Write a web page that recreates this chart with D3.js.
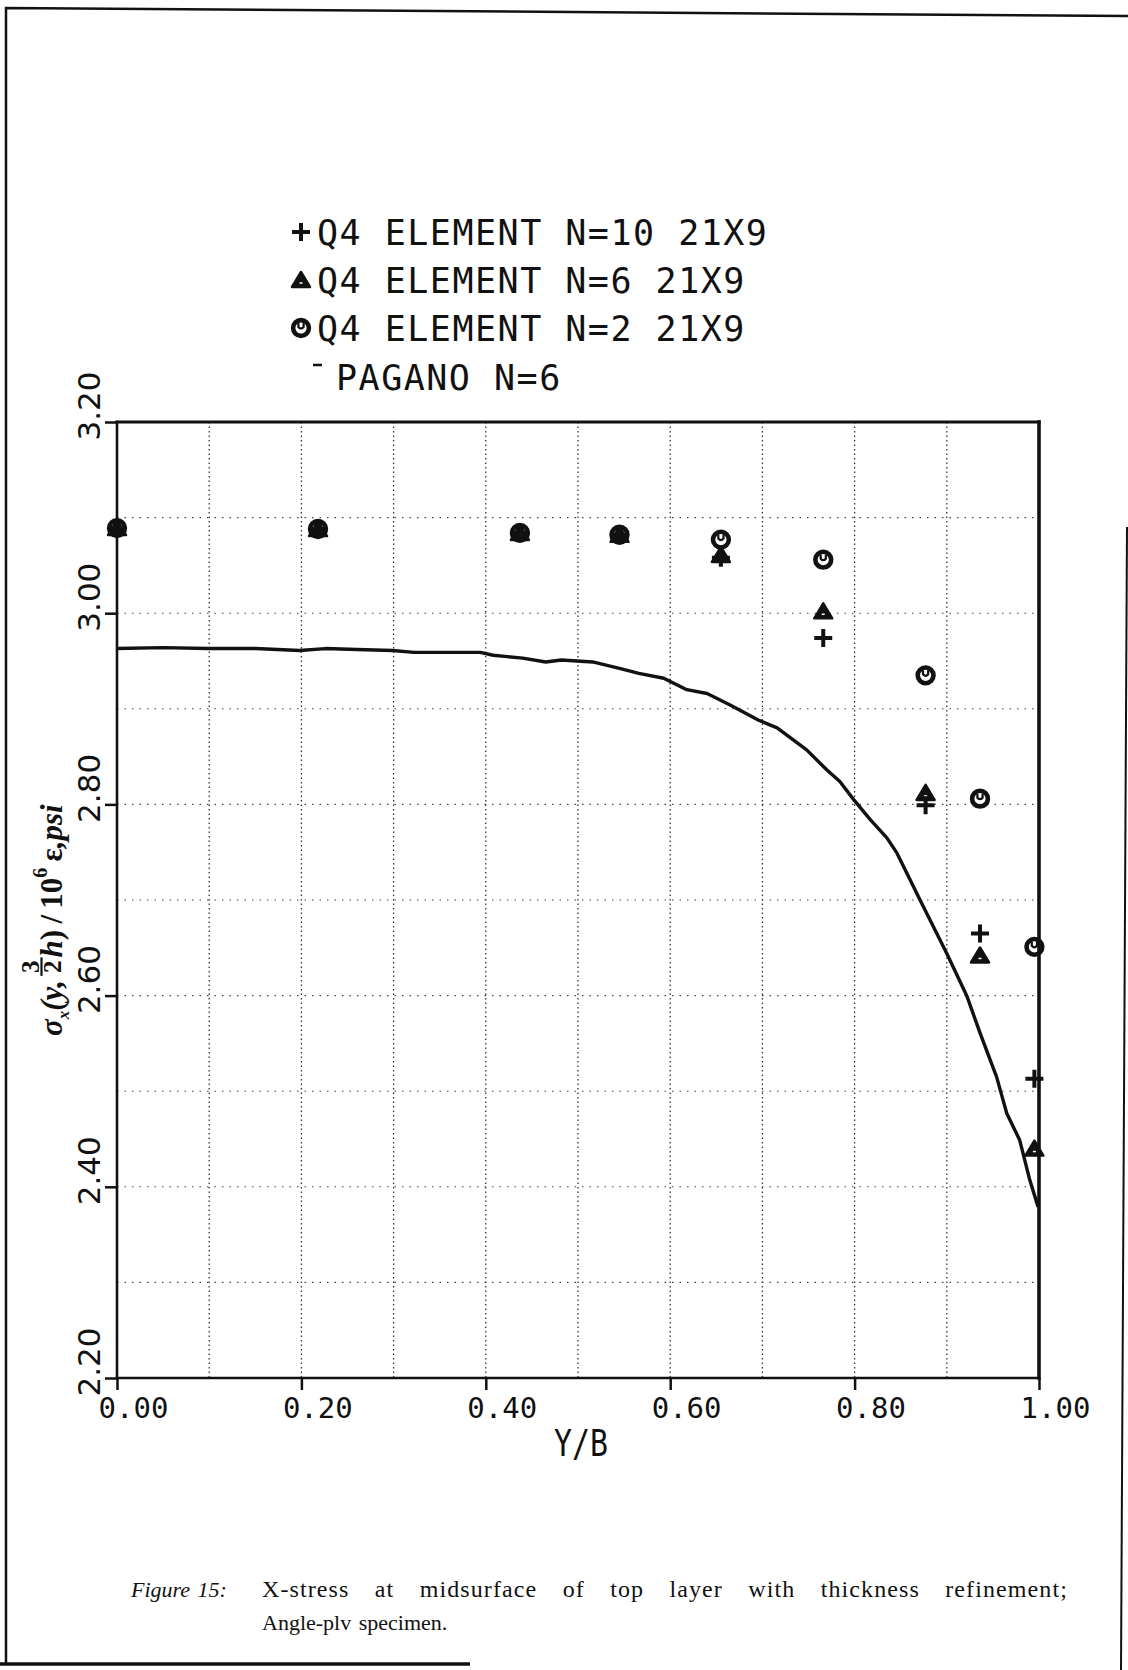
<!DOCTYPE html>
<html lang="en">
<head>
<meta charset="UTF-8">
<title>Figure 15 - X-stress, angle-ply</title>
<script src="https://cdn.jsdelivr.net/npm/d3@7"></script>
<style>
  body { margin: 0; background: #fff; }
</style>
</head>
<body>
<script>
"use strict";
// Y/B stations where the Q4 results were sampled
var nodeX = [0, 0.218, 0.437, 0.545, 0.655, 0.766, 0.877, 0.936, 0.995];
// sigma_x values for the three thickness refinements
var q4n10 = [3.089, 3.088, 3.084, 3.082, 3.058, 2.974, 2.799, 2.665, 2.513];
var q4n6  = [3.089, 3.088, 3.084, 3.082, 3.061, 3.002, 2.812, 2.642, 2.440];
var q4n2  = [3.089, 3.088, 3.084, 3.082, 3.077, 3.056, 2.935, 2.806, 2.651];
// Pagano N=6 reference curve
var paganoX = [0.000, 0.050, 0.098, 0.150, 0.198, 0.226, 0.260, 0.299, 0.322, 0.394,
               0.408, 0.440, 0.465, 0.482, 0.516, 0.546, 0.566, 0.593, 0.618, 0.640,
               0.665, 0.696, 0.716, 0.748, 0.770, 0.784, 0.799, 0.817, 0.835, 0.846,
               0.871, 0.900, 0.922, 0.936, 0.954, 0.965, 0.979, 0.990, 0.999];
var paganoY = [2.963, 2.964, 2.963, 2.963, 2.961, 2.963, 2.962, 2.961, 2.959, 2.959,
               2.956, 2.953, 2.949, 2.951, 2.949, 2.942, 2.937, 2.932, 2.920, 2.916,
               2.904, 2.888, 2.880, 2.857, 2.836, 2.824, 2.805, 2.784, 2.765, 2.749,
               2.700, 2.644, 2.599, 2.561, 2.515, 2.477, 2.449, 2.407, 2.379];
var xTicks = [0, 0.2, 0.4, 0.6, 0.8, 1.0];
var yTicks = [2.2, 2.4, 2.6, 2.8, 3.0, 3.2];
var gridX = [0.1, 0.2, 0.3, 0.4, 0.5, 0.6, 0.7, 0.8, 0.9];
var gridY = [2.3, 2.4, 2.5, 2.6, 2.7, 2.8, 2.9, 3.0, 3.1];
var legendLabels = ["Q4 ELEMENT N=10 21X9", "Q4 ELEMENT N=6 21X9", "Q4 ELEMENT N=2 21X9", "PAGANO N=6"];

var W = 1128, H = 1670;
var plotFont = "'DejaVu Sans Mono', monospace";

var svg = d3.select("body").append("svg")
  .attr("width", W)
  .attr("height", H)
  .style("display", "block");

svg.append("rect").attr("width", W).attr("height", H).attr("fill", "#fff");

var x = d3.scaleLinear().domain([0, 1]).range([117, 1039]);
var y = d3.scaleLinear().domain([2.2, 3.2]).range([1378, 422]);

// page border bits from the scan
var border = svg.append("g").attr("stroke", "#111").attr("fill", "none");
border.append("path").attr("d", "M6,1664V8L1128,16").attr("stroke-width", 2.5);
border.append("path").attr("d", "M1127,527L1121,1670").attr("stroke-width", 2);
border.append("path").attr("d", "M0,1664H470").attr("stroke-width", 3.5);

// dotted grid
svg.append("g").selectAll("line").data(gridX).join("line")
  .attr("x1", d => x(d)).attr("x2", d => x(d))
  .attr("y1", y(3.2)).attr("y2", y(2.2))
  .attr("stroke", "#333").attr("stroke-width", 1.3)
  .attr("stroke-dasharray", "1.5 3");
svg.append("g").selectAll("line").data(gridY).join("line")
  .attr("x1", x(0)).attr("x2", x(1))
  .attr("y1", d => y(d)).attr("y2", d => y(d))
  .attr("stroke", "#444").attr("stroke-width", 1.1)
  .attr("stroke-dasharray", "1.5 6");

// axes
var yAxis = svg.append("g")
  .attr("transform", "translate(" + x(0) + ",0)")
  .call(d3.axisLeft(y).tickValues(yTicks).tickSize(12).tickSizeOuter(0).tickFormat(d3.format(".2f")));
yAxis.select(".domain").remove();
yAxis.selectAll(".tick line").attr("stroke", "#111").attr("stroke-width", 2.5);
yAxis.selectAll(".tick text")
  .attr("x", 0).attr("dy", null)
  .attr("text-anchor", "start")
  .attr("transform", "translate(-17,18) rotate(-90)")
  .attr("fill", "#111")
  .style("font-family", "'DejaVu Sans', sans-serif")
  .style("font-size", "31px");

var xAxis = svg.append("g")
  .attr("transform", "translate(0," + y(2.2) + ")")
  .call(d3.axisBottom(x).tickValues(xTicks).tickSize(12).tickSizeOuter(0).tickFormat(d3.format(".2f")));
xAxis.select(".domain").remove();
xAxis.selectAll(".tick line").attr("stroke", "#111").attr("stroke-width", 2.5);
xAxis.selectAll(".tick text")
  .attr("x", -19).attr("y", 40).attr("dy", null)
  .attr("text-anchor", "start")
  .attr("fill", "#111")
  .style("font-family", plotFont)
  .style("font-size", "29px");

// plot frame
var frame = svg.append("g").attr("stroke", "#111").attr("stroke-linecap", "square");
frame.append("line").attr("x1", x(0)).attr("x2", x(1)).attr("y1", y(3.2)).attr("y2", y(3.2)).attr("stroke-width", 3.2);
frame.append("line").attr("x1", x(0)).attr("x2", x(1)).attr("y1", y(2.2)).attr("y2", y(2.2)).attr("stroke-width", 2.6);
frame.append("line").attr("x1", x(0)).attr("x2", x(0)).attr("y1", y(3.2)).attr("y2", y(2.2)).attr("stroke-width", 2.6);
frame.append("line").attr("x1", x(1)).attr("x2", x(1)).attr("y1", y(3.2)).attr("y2", y(2.2)).attr("stroke-width", 3.6);

// Pagano curve
var line = d3.line()
  .x(function (d) { return x(d[0]); })
  .y(function (d) { return y(d[1]); });
svg.append("path")
  .datum(d3.zip(paganoX, paganoY))
  .attr("fill", "none")
  .attr("stroke", "#111")
  .attr("stroke-width", 3.4)
  .attr("stroke-linejoin", "round")
  .attr("d", line);

// plotter style markers
function plusMark(g) {
  g.append("path").attr("d", "M-9,0H9M0,-9V9")
    .attr("stroke", "#111").attr("stroke-width", 4).attr("fill", "none");
}
function triMark(g) {
  g.append("path").attr("d", "M0,-8L9,7H-9Z")
    .attr("stroke", "#111").attr("stroke-width", 2.5).attr("stroke-linejoin", "round").attr("fill", "#111");
  g.append("path").attr("d", "M-1.5,3H1.5").attr("stroke", "#fff").attr("stroke-width", 1.5);
}
function circMark(g) {
  g.append("circle").attr("r", 7.9)
    .attr("stroke", "#111").attr("stroke-width", 4.6).attr("fill", "none");
  g.append("path").attr("d", "M-2.6,-5V-1Q0,2 2.6,-1V-5")
    .attr("stroke", "#111").attr("stroke-width", 2.2).attr("fill", "none");
}

var series = [
  { vals: q4n2, mark: circMark },
  { vals: q4n6, mark: triMark },
  { vals: q4n10, mark: plusMark }
];
series.forEach(function (s) {
  svg.append("g").selectAll("g").data(d3.zip(nodeX, s.vals)).join("g")
    .attr("transform", function (d) { return "translate(" + x(d[0]) + "," + y(d[1]) + ")"; })
    .each(function () { s.mark(d3.select(this)); });
});

// legend
var legendBase = [245, 293, 341, 390];
var legendMarks = [plusMark, triMark, circMark, null];
legendLabels.forEach(function (label, i) {
  var ly = legendBase[i];
  var isLine = legendMarks[i] === null;
  if (isLine) {
    svg.append("line").attr("x1", 313).attr("x2", 322).attr("y1", ly - 25).attr("y2", ly - 25)
      .attr("stroke", "#111").attr("stroke-width", 2.5);
  } else {
    legendMarks[i](svg.append("g").attr("transform", "translate(301," + (ly - 13) + ")"));
  }
  svg.append("text")
    .attr("x", isLine ? 336 : 317)
    .attr("y", ly)
    .attr("fill", "#111")
    .style("font-family", plotFont)
    .style("font-size", "35px")
    .style("letter-spacing", "1.5px")
    .text(label);
});

// x axis title
svg.append("text")
  .attr("x", 554).attr("y", 1456)
  .attr("textLength", 54).attr("lengthAdjust", "spacingAndGlyphs")
  .attr("fill", "#111")
  .style("font-family", plotFont)
  .style("font-size", "37px")
  .text("Y/B");

// y axis title, rotated: sigma_x(y, 3/2 h)/10^6 eps,psi
var yt = svg.append("g").attr("transform", "translate(62,1036) rotate(-90)")
  .attr("fill", "#111")
  .style("font-family", "'Liberation Serif', 'DejaVu Serif', serif")
  .style("font-weight", "bold");
var cx = 0;
function piece(str, size, dy, italic) {
  var t = yt.append("text").attr("x", cx).attr("y", dy)
    .style("font-size", size + "px")
    .style("font-style", italic ? "italic" : "normal")
    .text(str);
  cx += t.node().getComputedTextLength();
  return t;
}
piece("σ", 31, 0, true);
piece("x", 17, 7, true);
piece("(y,\u2009", 31, 0, true);
var fx = cx + 1;
var three = yt.append("text").attr("x", fx).attr("y", -23).style("font-size", "25px").text("3");
var two = yt.append("text").attr("x", fx).attr("y", -1).style("font-size", "25px").text("2");
var fw = Math.max(three.node().getComputedTextLength(), two.node().getComputedTextLength());
yt.append("line").attr("x1", fx - 3).attr("x2", fx + fw + 3).attr("y1", -20.5).attr("y2", -20.5)
  .attr("stroke", "#111").attr("stroke-width", 2.2);
cx = fx + fw + 3;
piece("h", 31, 0, true);
piece(")\u2009/\u200910", 31, 0, false);
piece("6", 20, -15, false);
piece("\u2009ε", 31, 0, false);
piece(",psi", 31, 0, true);

// caption
var capFont = "'Liberation Serif', 'Times New Roman', serif";
svg.append("text")
  .attr("x", 131).attr("y", 1597)
  .attr("fill", "#111")
  .style("font-family", capFont).style("font-style", "italic").style("font-size", "22px")
  .style("word-spacing", "2px")
  .text("Figure 15:");
// first line is justified out to the right margin through the word gaps
var cap1 = svg.append("text")
  .attr("x", 262).attr("y", 1597)
  .attr("fill", "#111")
  .style("font-family", capFont).style("font-size", "24px")
  .style("letter-spacing", "1.1px")
  .text("X-stress at midsurface of top layer with thickness refinement;");
var capW = cap1.node().getBBox().width;
var gaps = cap1.text().split(" ").length - 1;
cap1.style("word-spacing", Math.max(0, (806 - capW) / gaps) + "px");
svg.append("text")
  .attr("x", 262).attr("y", 1630)
  .attr("fill", "#111")
  .style("font-family", capFont).style("font-size", "22px")
  .style("word-spacing", "2px")
  .text("Angle-plv specimen.");
</script>
</body>
</html>
